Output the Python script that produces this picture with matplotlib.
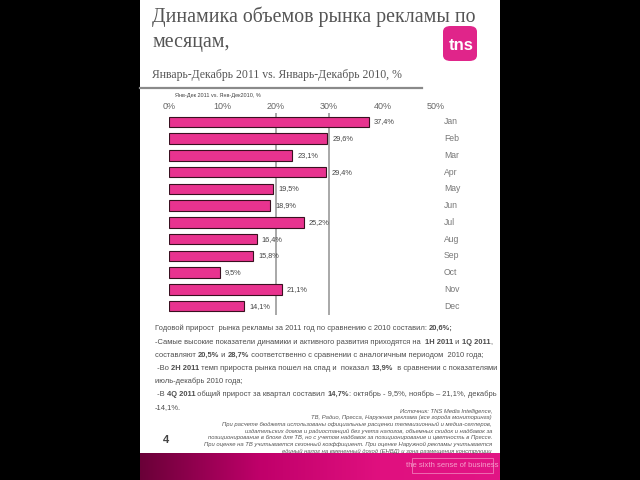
import numpy as np
import matplotlib.pyplot as plt
from matplotlib.patches import Rectangle, FancyBboxPatch
from matplotlib.colors import LinearSegmentedColormap
from matplotlib.font_manager import FontProperties

months = ['Jan', 'Feb', 'Mar', 'Apr', 'May', 'Jun', 'Jul', 'Aug', 'Sep', 'Oct', 'Nov', 'Dec']
growth = [37.4, 29.6, 23.1, 29.4, 19.5, 18.9, 25.2, 16.4, 15.8, 9.5, 21.1, 14.1]
x_ticks = [0, 10, 20, 30, 40, 50]

title_lines = ['Динамика объемов рынка рекламы по', 'месяцам,']
subtitle = 'Январь-Декабрь 2011 vs. Январь-Декабрь 2010, %'
chart_note = 'Янв-Дек 2011 vs. Янв-Дек2010, %'

# текст под графиком: (фрагмент, жирный?)
paragraph = [
    [('Годовой прирост  рынка рекламы за 2011 год по сравнению с 2010 составил: ', False), ('20,6%;', True)],
    [('-Самые высокие показатели динамики и активного развития приходятся на  ', False), ('1H 2011', True),
     (' и ', False), ('1Q 2011', True), (',', False)],
    [('составляют ', False), ('20,5%', True), (' и ', False), ('28,7%', True),
     (' соответственно с сравнении с аналогичным периодом  2010 года;', False)],
    [(' -Во ', False), ('2H 2011', True), (' темп прироста рынка пошел на спад и  показал ', False), ('13,9%', True),
     ('  в сравнении с показателями', False)],
    [('июль-декабрь 2010 года;', False)],
    [(' -В ', False), ('4Q 2011', True), (' общий прирост за квартал составил ', False), ('14,7%', True),
     (': октябрь - 9,5%, ноябрь – 21,1%, декабрь', False)],
    [('-14,1%.', False)],
]

source = [
    'Источник: TNS Media Intelligence,',
    'ТВ, Радио, Пресса, Наружная реклама (все города мониторинга)',
    'При расчете бюджета использованы официальные расценки телевизионный и медиа-селлеров,',
    'издательских домов и радиостанций без учета налогов, объемных скидок и надбавок за',
    'позиционирование в блоке для ТВ, но с учетом надбавок за позиционирование и цветность в Прессе.',
    'При оценке на ТВ учитывается сезонный коэффициент. При оценке Наружной рекламы учитывается',
    'единый налог на вмененный доход (ЕНВД) и зона размещения конструкции',
]

W, H = 640, 480
fig = plt.figure(figsize=(6.4, 4.8), dpi=100, facecolor='black')


def px(x, y):
    # пиксели -> координаты фигуры
    return x / W, 1 - y / H


# белый слайд
fig.patches.append(Rectangle((140 / W, 0), 360 / W, 1, transform=fig.transFigure,
                             facecolor='white', edgecolor='none', zorder=-5))

# нижняя малиновая полоса с градиентом
band = fig.add_axes([140 / W, 0, 360 / W, 27 / H])
grad = np.linspace(0, 1, 256).reshape(1, -1)
cmap = LinearSegmentedColormap.from_list('band', ['#6a0038', '#c0006a', '#e0107f', '#e21585'])
band.imshow(grad, aspect='auto', cmap=cmap, extent=[0, 1, 0, 1])
band.set_xlim(0, 1)
band.set_ylim(0, 1)
band.axis('off')
band.add_patch(Rectangle((0.755, 0.25), 0.225, 0.55, facecolor='none', edgecolor='#f07ab8', lw=0.6))
band.text(0.868, 0.52, 'the sixth sense of business', color='#f5a0cc', fontsize=5.5,
          ha='center', va='center', family='Liberation Sans')

# заголовок
for line, ly in zip(title_lines, [17, 42]):
    x0, y0 = px(152, ly)
    fig.text(x0, y0, line, fontsize=14.3, family='Liberation Serif', color='#555555',
             va='center', ha='left')
x0, y0 = px(152, 75)
fig.text(x0, y0, subtitle, fontsize=8.5, family='Liberation Serif', color='#555555',
         va='center', ha='left')
fig.add_artist(plt.Line2D([140 / W, 422 / W], [1 - 88 / H, 1 - 88 / H], transform=fig.transFigure,
                          color='#8a8a8a', lw=1.6))

# логотип tns
logo = FancyBboxPatch((443 / W, 1 - 61 / H), 34 / W, 35 / H, boxstyle='round,pad=0,rounding_size=0.012',
                      transform=fig.transFigure, facecolor='#e0258a', edgecolor='none')
fig.patches.append(logo)
x0, y0 = px(461, 46)
fig.text(x0, y0, 'tns', color='white', fontsize=12, fontweight='bold', family='Liberation Sans',
         ha='center', va='center')

# график
left, right = 169, 436
top, bottom = 113.5, 314.5
ax = fig.add_axes([left / W, 1 - bottom / H, (right - left) / W, (bottom - top) / H])
ax.set_facecolor('none')
y = np.arange(len(months))
ax.barh(y, growth, height=0.62, color='#e8338f', edgecolor='#3a1020', linewidth=0.8, zorder=3)
for xv in [20, 30]:
    ax.axvline(xv, color='#9a9a9a', lw=1.2, zorder=1)
ax.set_xlim(0, 50)
ax.set_ylim(len(months) - 0.5, -0.5)
ax.xaxis.tick_top()
ax.set_xticks(x_ticks)
ax.set_xticklabels([f'{t}%' for t in x_ticks], fontsize=6.5, color='#666666', family='Liberation Sans')
ax.tick_params(axis='x', length=0, pad=2)
ax.set_yticks([])
for s in ax.spines.values():
    s.set_visible(False)
for i, v in enumerate(growth):
    ax.text(v + 1.0, i, f'{v:.1f}'.replace('.', ',') + '%', fontsize=5.3, color='#444444',
            va='center', ha='left', family='Liberation Sans')
    ax.text(51.5, i, months[i], fontsize=6.2, color='#777777', va='center', ha='left',
            family='Liberation Sans', clip_on=False)
x0, y0 = px(175, 96)
fig.text(x0, y0, chart_note, fontsize=4, color='#444444', va='center', ha='left', family='Liberation Sans')

# абзац с жирными фрагментами
fig.canvas.draw()
renderer = fig.canvas.get_renderer()
fs = 5.4


def text_width(s, bold):
    # ширина с учетом пробелов по краям
    prop = FontProperties(family='Liberation Sans', size=fs, weight='bold' if bold else 'normal')
    w1 = renderer.get_text_width_height_descent('|' + s + '|', prop, ismath=False)[0]
    w0 = renderer.get_text_width_height_descent('||', prop, ismath=False)[0]
    return w1 - w0


line_y = [330, 344, 357, 370, 383, 396, 409]
for parts, ly in zip(paragraph, line_y):
    xx = 155
    for txt, bold in parts:
        fig.text(xx / W, 1 - ly / H, txt, fontsize=fs, color='#4d4d4d', family='Liberation Sans',
                 fontweight='bold' if bold else 'normal', va='baseline', ha='left')
        xx += text_width(txt, bold)

# источник
for i, line in enumerate(source):
    x0, y0 = px(492, 411 + i * 6.7)
    fig.text(x0, y0, line, fontsize=4.2, style='italic', color='#555555', family='Liberation Sans',
             ha='right', va='center')

x0, y0 = px(166, 440)
fig.text(x0, y0, '4', fontsize=8, fontweight='bold', color='#444444', family='Liberation Sans',
         ha='center', va='center')

fig.savefig('out.png', dpi=100, facecolor='black')
